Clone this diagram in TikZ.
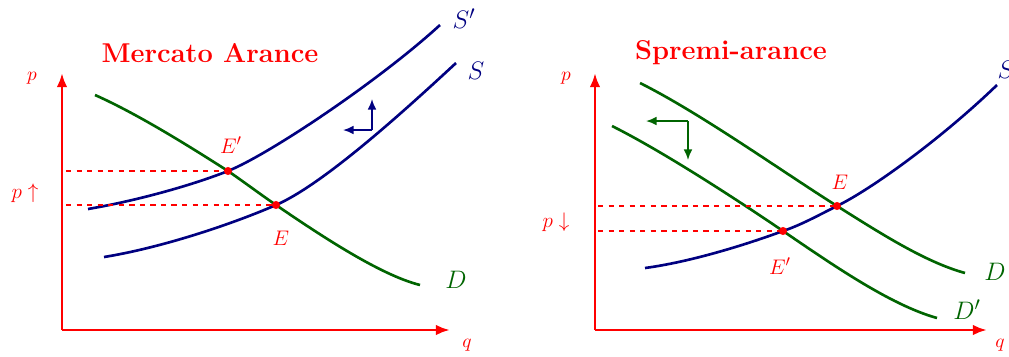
\documentclass[tikz,border=0pt]{standalone}
\usetikzlibrary{arrows.meta,positioning,calc}
\definecolor{mktRed}{RGB}{255,0,0}
\definecolor{mktBlue}{RGB}{0,0,128}
\definecolor{mktGreen}{RGB}{0,100,0}
\tikzset{
  axis/.style={draw=mktRed, line width=1.6pt, -{Latex[length=8pt,width=6pt]}},
  supply/.style={draw=mktBlue, line width=1.5pt},
  demand/.style={draw=mktGreen, line width=1.5pt},
  guide/.style={draw=mktRed, dashed, line width=0.75pt},
  eqdot/.style={circle, fill=mktRed, inner sep=0pt, minimum size=4.6pt},
  shiftarrow/.style={line width=1pt, -{Latex[length=6pt,width=5pt]}},
  curvelbl/.style={font=\fontsize{15}{17}\selectfont},
  eqlbl/.style={text=mktRed, font=\fontsize{12.5}{14}\selectfont},
  axlbl/.style={text=mktRed, font=\fontsize{11}{13}\selectfont},
  title/.style={text=mktRed, font=\fontsize{15.5}{18}\selectfont\bfseries}
}
\begin{document}
\begin{tikzpicture}[x=0.02cm, y=-0.02cm]
  \useasboundingbox (0,0) rectangle (1009,356);

  % ---- left: Mercato Arance
  \node[title] (tL) at (210,53) {Mercato Arance};
  \coordinate (oL) at (62,330);
  \coordinate (yL) at (62,73);
  \coordinate (xL) at (450,330);
  \draw[axis] (oL) -- (yL);
  \draw[axis] (oL) -- (xL);
  \node[axlbl] (pL) at (32,78) {$p$};
  \node[axlbl] (qL) at (467,345) {$q$};

  \coordinate (EpL) at (228,171);
  \coordinate (EL) at (276,205);
  \draw[demand] (95,95) .. controls (140,115) and (195,150) .. (EpL)
    .. controls (244,182) and (260,194) .. (EL)
    .. controls (320,235) and (380,275) .. (420,285);
  \draw[supply] (88,209) .. controls (135,201) and (190,186) .. (EpL)
    .. controls (270,154) and (380,80) .. (440,25);
  \draw[supply] (104,257) .. controls (160,248) and (230,225) .. (EL)
    .. controls (322,185) and (400,115) .. (456,63);

  \coordinate (gL1) at (66,171);
  \coordinate (gL2) at (66,205);
  \draw[guide] (gL1) -- (EpL);
  \draw[guide] (gL2) -- (EL);
  \node[eqdot] (dEpL) at (EpL) {};
  \node[eqdot] (dEL) at (EL) {};
  \node[eqlbl] (pUp) at (25,193) {$p\uparrow$};
  \node[eqlbl] at (231,145) {$E'$};
  \node[eqlbl] at (281,238) {$E$};

  \node[curvelbl, text=mktBlue] at (464,19) {$S'$};
  \node[curvelbl, text=mktBlue] at (476,71) {$S$};
  \node[curvelbl, text=mktGreen] at (456,280) {$D$};

  \coordinate (cL) at (372,130);
  \coordinate (cLl) at (343,130);
  \coordinate (cLu) at (372,99);
  \draw[shiftarrow, draw=mktBlue, fill=mktBlue] (cL) -- (cLl);
  \draw[shiftarrow, draw=mktBlue, fill=mktBlue] (cL) -- (cLu);

  % ---- right: Spremi-arance
  \node[title] (tR) at (731,53) {Spremi-arance};
  \coordinate (oR) at (595,330);
  \coordinate (yR) at (595,73);
  \coordinate (xR) at (987,330);
  \draw[axis] (oR) -- (yR);
  \draw[axis] (oR) -- (xR);
  \node[axlbl] (pR) at (566,78) {$p$};
  \node[axlbl] (qR) at (1000,345) {$q$};

  \coordinate (ER) at (837,206);
  \coordinate (EpR) at (783,231);
  \draw[supply] (645,268) .. controls (690,262) and (745,245) .. (EpR)
    .. controls (801,225) and (819,215) .. (ER)
    .. controls (870,190) and (940,140) .. (997,85);
  \draw[demand] (640,83) .. controls (700,113) and (780,170) .. (ER)
    .. controls (880,233) and (925,262) .. (965,273);
  \draw[demand] (612,126) .. controls (660,150) and (730,195) .. (EpR)
    .. controls (830,263) and (890,305) .. (937,318);

  \coordinate (gR1) at (598,206);
  \coordinate (gR2) at (598,231);
  \draw[guide] (gR1) -- (ER);
  \draw[guide] (gR2) -- (EpR);
  \node[eqdot] (dER) at (ER) {};
  \node[eqdot] (dEpR) at (EpR) {};
  \node[eqlbl] (pDown) at (556,222) {$p\downarrow$};
  \node[eqlbl] at (840,182) {$E$};
  \node[eqlbl] at (780,266) {$E'$};

  \node[curvelbl, text=mktBlue] at (1006,70) {$S$};
  \node[curvelbl, text=mktGreen] at (995,272) {$D$};
  \node[curvelbl, text=mktGreen] at (967,310) {$D'$};

  \coordinate (cR) at (688,121);
  \coordinate (cRl) at (646,121);
  \coordinate (cRd) at (688,160);
  \draw[shiftarrow, draw=mktGreen, fill=mktGreen] (cR) -- (cRl);
  \draw[shiftarrow, draw=mktGreen, fill=mktGreen] (cR) -- (cRd);
\end{tikzpicture}
\end{document}
